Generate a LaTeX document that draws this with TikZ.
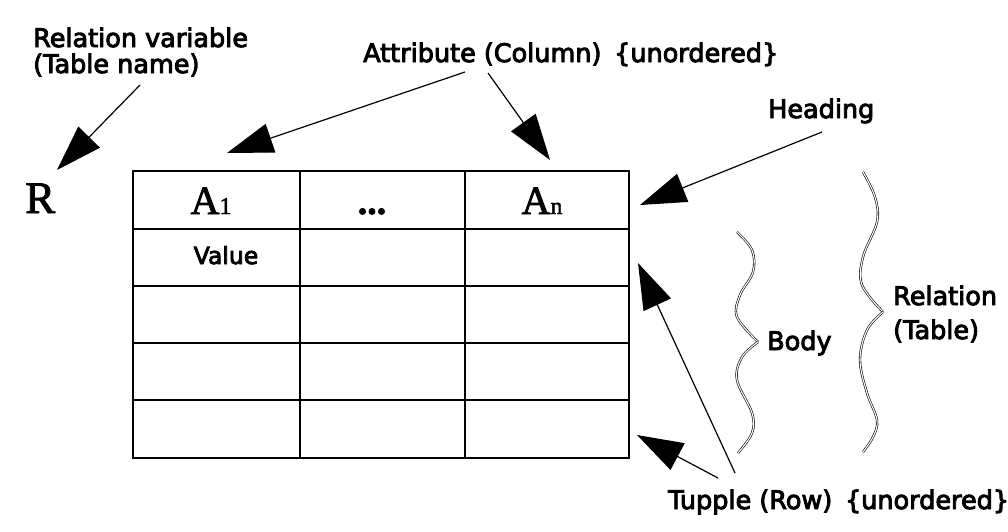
\documentclass[tikz,border=0pt]{standalone}
\usepackage{fontspec}
\setmainfont{DejaVu Sans}
\newfontfamily\lblfont{DejaVu Sans}[FakeBold=3.5]
\newfontfamily\seriffam{Liberation Serif}[FakeBold=2]
\usetikzlibrary{arrows.meta}
\begin{document}
\begin{tikzpicture}[x=1pt,y=-1pt,
  lbl/.style={font=\lblfont\fontsize{25.5}{28}\selectfont, inner sep=0pt, anchor=base west},
  pointer/.style={line width=1.2pt, -{Triangle[length=46pt,width=30pt]}},
  bracepath/.style={line width=0.6pt, double, double distance=1.1pt},
  gridline/.style={line width=1.6pt}]
\useasboundingbox (0,0) rectangle (1008,531);
\fill[white] (0,0) rectangle (1008,531);

% table
\coordinate (tl) at (133,171);
\coordinate (br) at (629,458);
\draw[gridline] (tl) rectangle (br);
\foreach \y in {229,286,343,400} \draw[gridline] (133,\y) -- (629,\y);
\foreach \x in {300,465} \draw[gridline] (\x,171) -- (\x,458);

% cell texts
\node[anchor=base, inner sep=0pt] (a1) at (211,214) {\seriffam\fontsize{40}{40}\selectfont A\fontsize{24}{24}\selectfont 1};
\node[anchor=base, inner sep=0pt] (dots) at (372,214) {\seriffam\bfseries\fontsize{38}{38}\selectfont ...};
\node[anchor=base, inner sep=0pt] (an) at (542,214) {\seriffam\fontsize{40}{40}\selectfont A\fontsize{24}{24}\selectfont n};
\node[anchor=base, inner sep=0pt, font=\lblfont\fontsize{23.5}{26}\selectfont] (val) at (226,264) {Value};
\node[anchor=base west, inner sep=0pt] (R) at (25,213) {\seriffam\fontsize{45}{45}\selectfont R};

% labels
\node[lbl] (rv1) at (33,47) {Relation variable};
\node[lbl] (rv2) at (33,73) {(Table name)};
\node[lbl] (attr) at (363,62) {Attribute (Column)\hspace{0.5em}\{unordered\}};
\node[lbl] (head) at (768,118) {Heading};
\node[lbl] (body) at (767,350) {Body};
\node[lbl] (rel1) at (893,305) {Relation};
\node[lbl] (rel2) at (893,339) {(Table)};
\node[lbl] (tup) at (668,509) {Tupple (Row)\hspace{0.5em}\{unordered\}};

% arrows
\coordinate (rvS) at (140,85);   \coordinate (rvT) at (57,170);
\coordinate (a1S) at (465,72);   \coordinate (a1T) at (227,153);
\coordinate (a2S) at (488,73);   \coordinate (a2T) at (550,160);
\coordinate (hS) at (822,132);   \coordinate (hT) at (640,205);
\coordinate (t1S) at (735,473);  \coordinate (t1T) at (638,263);
\coordinate (t2S) at (718,478);  \coordinate (t2T) at (637,435);
\draw[pointer] (rvS) -- (rvT);
\draw[pointer] (a1S) -- (a1T);
\draw[pointer] (a2S) -- (a2T);
\draw[pointer] (hS) -- (hT);
\draw[pointer] (t1S) -- (t1T);
\draw[pointer] (t2S) -- (t2T);

% braces
\draw[bracepath] plot[smooth, tension=0.6] coordinates {(737,232) (752,250) (753,272) (740,295) (737,317) (758,342)};
\draw[bracepath] plot[smooth, tension=0.6] coordinates {(758,342) (742,357) (737,380) (752,413) (752,433) (738,453)};
\draw[bracepath] plot[smooth, tension=0.6] coordinates {(863,172) (875,197) (877,222) (863,257) (862,285) (883,312)};
\draw[bracepath] plot[smooth, tension=0.6] coordinates {(883,312) (867,330) (860,360) (867,393) (877,420) (873,437) (863,452)};
\end{tikzpicture}
\end{document}
